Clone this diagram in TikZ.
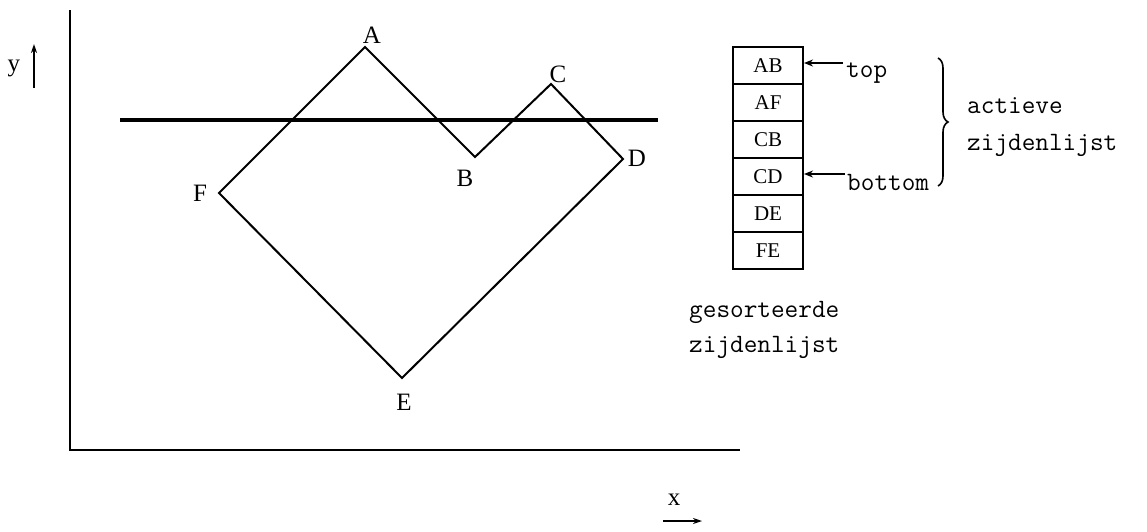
\documentclass[tikz,border=0pt]{standalone}
\usepackage{fontspec}
\setmainfont{Liberation Serif}
\usetikzlibrary{decorations.pathreplacing,arrows.meta}
\begin{document}
\begin{tikzpicture}[x=1pt,y=-1pt,
  lbl/.style={font=\fontsize{25}{25}\selectfont, inner sep=0pt},
  cell/.style={draw, line width=2pt, minimum width=70pt, minimum height=37pt, inner sep=0pt, font=\fontsize{21}{21}\selectfont, anchor=north west},
  tt/.style={font=\ttfamily\fontsize{26.5}{26.5}\selectfont, inner sep=0pt, anchor=base west},
  ln/.style={line width=2pt},
  ptr/.style={line width=1.6pt, -{Stealth[length=9pt,width=7pt]}},
  axarrow/.style={line width=1.6pt, -{Stealth[length=9pt,width=6pt]}},
]
\useasboundingbox (0,0) rectangle (1147,531);
% axes
\coordinate (Ytop) at (70,10);
\coordinate (O) at (70,450);
\coordinate (Xend) at (740,450);
\draw[ln] (Ytop) -- (O) -- (Xend);
\node[lbl] (ylab) at (14,68) {y};
\coordinate (ya1) at (34,88);
\coordinate (ya2) at (34,44);
\draw[axarrow] (ya1) -- (ya2);
\node[lbl] (xlab) at (674,500) {x};
\coordinate (xa1) at (663,521);
\coordinate (xa2) at (702,521);
\draw[axarrow] (xa1) -- (xa2);
% scan line
\coordinate (s1) at (120,120);
\coordinate (s2) at (658,120);
\draw[line width=4pt] (s1) -- (s2);
% polygon
\coordinate (A) at (365,47);
\coordinate (B) at (475,157);
\coordinate (C) at (551,84);
\coordinate (D) at (623,159);
\coordinate (E) at (402,378);
\coordinate (F) at (219,193);
\draw[ln, line join=miter] (A) -- (B) -- (C) -- (D) -- (E) -- (F) -- cycle;
\node[lbl] (lA) at (372,35) {A};
\node[lbl] (lB) at (465,178) {B};
\node[lbl] (lC) at (558,74) {C};
\node[lbl] (lD) at (637,158) {D};
\node[lbl] (lE) at (404,402) {E};
\node[lbl] (lF) at (200,193) {F};
% sorted edge list
\node[cell] (c1) at (732,46) {AB};
\node[cell] (c2) at (732,83) {AF};
\node[cell] (c3) at (732,120) {CB};
\node[cell] (c4) at (732,157) {CD};
\node[cell] (c5) at (732,194) {DE};
\node[cell] (c6) at (732,231) {FE};
% pointers
\node[tt] (top) at (846,77) {top};
\node[tt] (bot) at (847,190) {bottom};
\coordinate (t1) at (843,63);
\coordinate (b1) at (845,174);
\draw[ptr] (t1) -- (c1.east |- t1);
\draw[ptr] (b1) -- (c4.east |- b1);
% brace
\coordinate (br1) at (938,58);
\coordinate (br2) at (938,186);
\draw[line width=1.6pt, decorate, decoration={brace, amplitude=10pt}] (br1) -- (br2);
\node[tt] (act1) at (967,113) {actieve};
\node[tt] (act2) at (967,150) {zijdenlijst};
\node[tt] (sor1) at (689,317) {gesorteerde};
\node[tt] (sor2) at (689,352) {zijdenlijst};
\end{tikzpicture}
\end{document}
